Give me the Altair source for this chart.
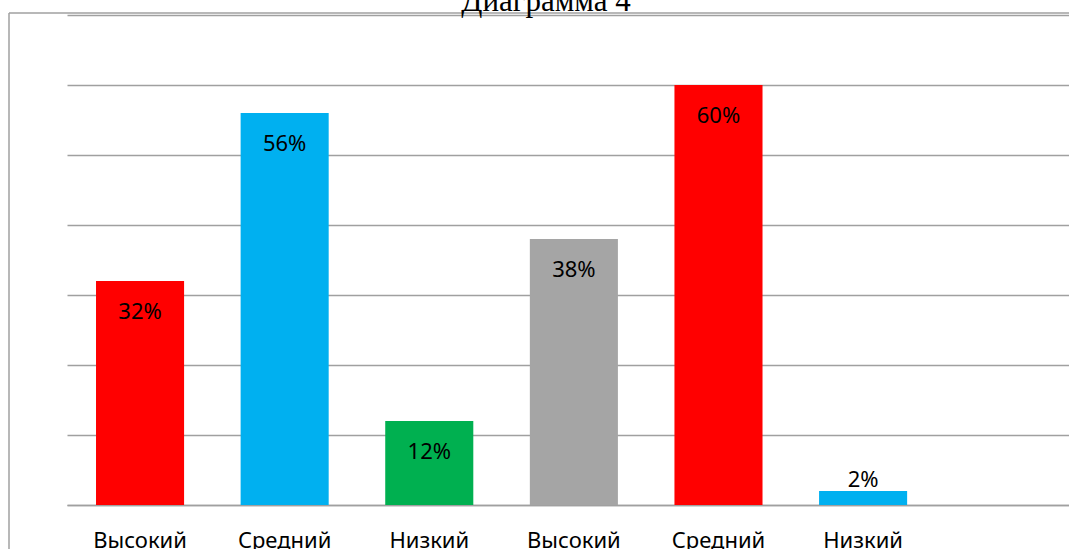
import json
import altair as alt
import pandas as pd

categories = ["Высокий", "Средний", "Низкий", "Высокий", "Средний", "Низкий"]
values = [32, 56, 12, 38, 60, 2]
colors = ["#FF0000", "#00B0F0", "#00B050", "#A5A5A5", "#FF0000", "#00B0F0"]
ids = [str(i) for i in range(len(categories))]
title_text = "Диаграмма 4"

df = pd.DataFrame({
    "id": ids,
    "cat": categories,
    "value": values,
    "color": colors,
    "label": [f"{v}%" for v in values],
})

label_expr = json.dumps(categories, ensure_ascii=False) + "[toNumber(datum.value)]"

x = alt.X(
    "id:N",
    sort=ids,
    scale=alt.Scale(paddingInner=0.391, paddingOuter=0.66, align=0.152),
    axis=alt.Axis(
        title=None, labelExpr=label_expr, labelAngle=0, ticks=False,
        labelFont="Noto Sans", labelFontSize=22, labelColor="black",
        labelPadding=25, domainColor="#A0A0A0", domainWidth=1.5, grid=False,
    ),
)
y = alt.Y(
    "value:Q",
    scale=alt.Scale(domain=[0, 70], nice=False),
    axis=alt.Axis(
        title=None, labels=False, ticks=False, domain=False,
        values=[0, 10, 20, 30, 40, 50, 60, 70],
        gridColor="#A0A0A0", gridWidth=1.5,
    ),
)

base = alt.Chart(df)
bars = base.mark_bar().encode(x=x, y=y, color=alt.Color("color:N", scale=None))

inside = base.transform_filter("datum.value >= 5").mark_text(
    baseline="alphabetic", dy=38, font="Noto Sans", fontSize=22, color="black"
).encode(x=alt.X("id:N", sort=ids), y="value:Q", text="label:N")

outside = base.transform_filter("datum.value < 5").mark_text(
    baseline="alphabetic", dy=-4, font="Noto Sans", fontSize=22, color="black"
).encode(x=alt.X("id:N", sort=ids), y="value:Q", text="label:N")

one = alt.Data(values=[{"t": title_text}])
border_left = alt.Chart(one).mark_rule(color="#A0A0A0", strokeWidth=1.5).encode(
    x=alt.value(-58), y=alt.value(-2), y2=alt.value(540)
)
border_top = alt.Chart(one).mark_rule(color="#A0A0A0", strokeWidth=1.5).encode(
    x=alt.value(-58), x2=alt.value(1002), y=alt.value(-2)
)
title = alt.Chart(one).mark_text(
    font="Liberation Serif", fontSize=31, color="black",
    baseline="alphabetic", align="center",
).encode(x=alt.value(479), y=alt.value(-4), text="t:N")

chart = alt.layer(bars, inside, outside, border_left, border_top, title).properties(
    width=1002,
    height=490,
    background="white",
    autosize=alt.AutoSizeParams(type="none"),
    padding={"left": 67, "top": 15, "right": 0, "bottom": 44},
).configure_view(strokeWidth=0, stroke="transparent")

chart.save("out.html", embed_options={"renderer": "svg", "actions": False})
